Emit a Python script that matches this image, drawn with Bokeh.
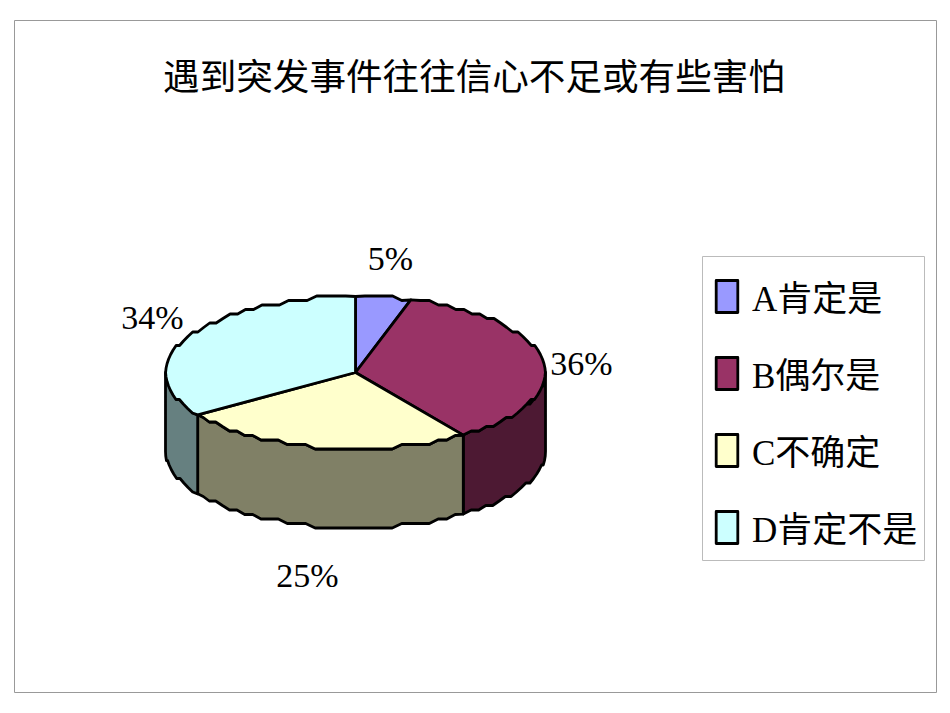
import math
from bokeh.plotting import figure
from bokeh.models import Range1d, Legend, LegendItem
from bokeh.core.properties import value
from bokeh.embed import file_html
from bokeh.resources import INLINE

title_text = "遇到突发事件往往信心不足或有些害怕"
categories = ["A肯定是", "B偶尔是", "C不确定", "D肯定不是"]
shares = [4.7, 35.7, 25.2, 34.4]
pct_labels = ["5%", "36%", "25%", "34%"]
top_colors = ["#9999FF", "#993366", "#FFFFCC", "#CCFFFF"]
side_colors = ["#4D4D80", "#4D1933", "#808066", "#668080"]
label_x = [390, 581, 307, 152]
label_y = [258, 363, 575, 317]

CX, CY, RX, RY, DEPTH = 355, 372, 190, 76, 79
STEP = 4.5
FONT = "Liberation Serif, Noto Sans CJK SC"

p = figure(width=942, height=705, x_range=Range1d(0, 942), y_range=Range1d(705, 0),
           output_backend="svg", toolbar_location=None, min_border=0, outline_line_color=None)
p.axis.visible = False
p.grid.visible = False


def rim(a0, a1, dy=0.0):
    n = max(2, int(abs(a1 - a0) / 3.0) + 1)
    out = []
    for i in range(n + 1):
        a = math.radians(a0 + (a1 - a0) * i / n)
        off = -RY * math.cos(a)
        if 0 < i < n:
            off = round(off / STEP) * STEP
        out.append((CX + RX * math.sin(a), CY + off + dy))
    return out


bounds = [0]
for s in shares:
    bounds.append(bounds[-1] + s * 3.6)

p.quad(left=[14], right=[936], top=[20], bottom=[692], fill_color=None, line_color="#999999", line_width=1)
p.quad(left=[702], right=[924], top=[256], bottom=[560], fill_color="white", line_color="#BBBBBB", line_width=1)

for i in range(len(shares)):
    a0, a1 = max(bounds[i], 90), min(bounds[i + 1], 270)
    if a1 <= a0:
        continue
    pts = rim(a0, a1) + rim(a1, a0, DEPTH)
    p.patch([q[0] for q in pts], [q[1] for q in pts], fill_color=side_colors[i],
            line_color="black", line_width=2.8, line_join="round")

items = []
for i in range(len(shares)):
    pts = [(CX, CY)] + rim(bounds[i], bounds[i + 1])
    r = p.patch([q[0] for q in pts], [q[1] for q in pts], fill_color=top_colors[i],
                line_color="black", line_width=2.8, line_join="round")
    items.append(LegendItem(label=categories[i], renderers=[r]))

p.text(x=[473.5], y=[77], text=[title_text], text_font=value(FONT), text_font_size="36.6px",
       text_align="center", text_baseline="middle", text_color="black")
p.text(x=label_x, y=label_y, text=pct_labels, text_font=value(FONT), text_font_size="34px",
       text_align="center", text_baseline="middle", text_color="black")

legend = Legend(items=items, location=(713, 153), orientation="vertical", margin=0,
                padding=11, spacing=26, glyph_width=27, glyph_height=40, label_height=34,
                label_standoff=12, label_text_font=FONT, label_text_font_size="35px",
                label_text_color="black", border_line_color=None, background_fill_alpha=0)
p.add_layout(legend, "center")

open("out.html", "w").write(file_html(p, INLINE))
